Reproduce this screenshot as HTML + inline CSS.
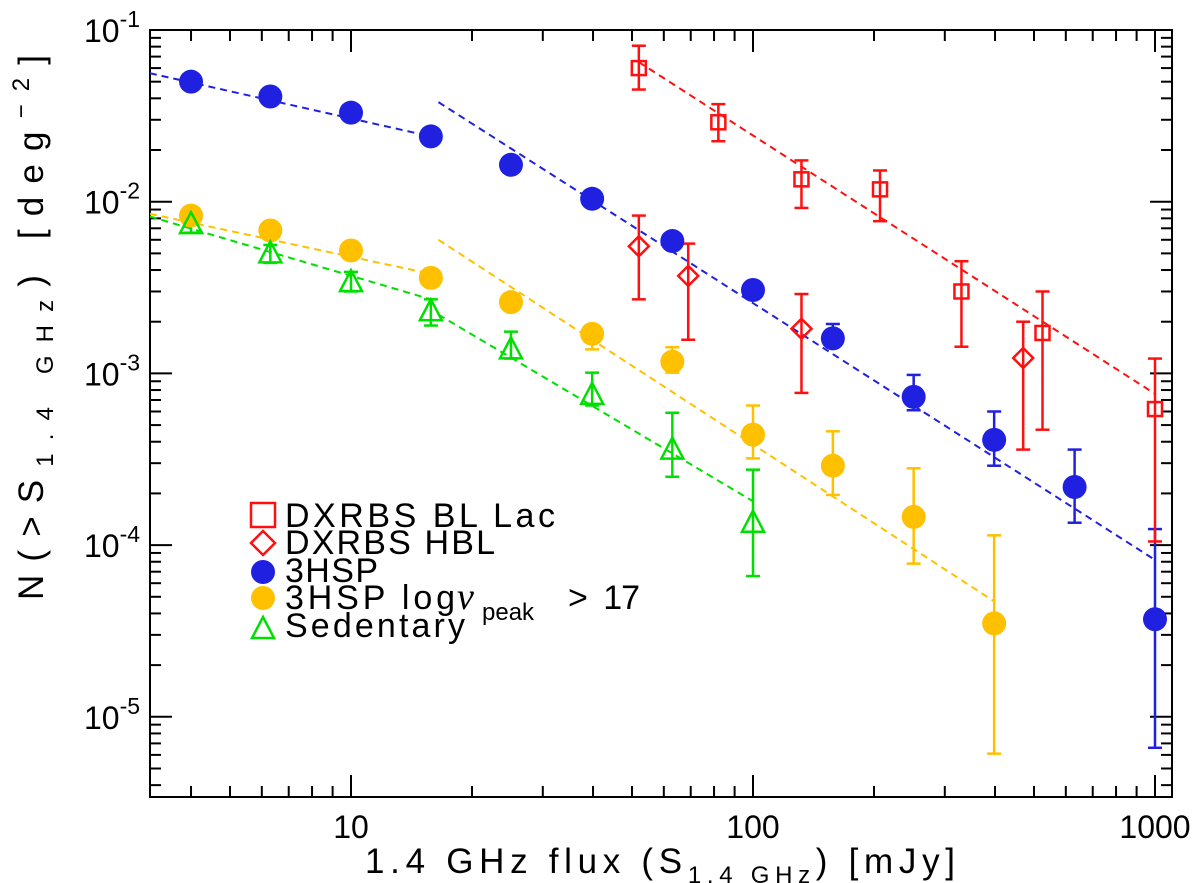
<!DOCTYPE html>
<html><head><meta charset="utf-8"><style>body{margin:0;background:#fff}svg{display:block}text{white-space:pre}</style></head>
<body>
<svg id="c" width="1200" height="883" xmlns="http://www.w3.org/2000/svg" font-family="'Liberation Sans', 'DejaVu Sans', sans-serif"></svg>
<script>
const blueX=[4,6.3,10,15.8,25,39.8,63,100,158,251,398,631,1000];
const blueY=[0.05,0.041,0.033,0.024,0.0164,0.0104,0.0059,0.00306,0.0016,0.00073,0.00041,0.000218,0.000037];
const blueLo=[null,null,null,null,null,null,null,null,0.00146,0.00061,0.00029,0.000135,0.0000066];
const blueHi=[null,null,null,null,null,null,null,null,0.00194,0.00098,0.00060,0.00036,0.000124];
const yelX=[4,6.3,10,15.8,25,39.8,63,100,158,251,398];
const yelY=[0.0083,0.0068,0.0052,0.0036,0.0026,0.0017,0.00117,0.00044,0.00029,0.000146,0.000035];
const yelLo=[null,null,null,null,null,0.00138,0.00101,0.00032,0.000196,0.000078,0.0000061];
const yelHi=[null,null,null,null,null,0.00189,0.00142,0.00065,0.00046,0.00028,0.000114];
const sedX=[4,6.3,10,15.8,25,39.8,63,100];
const sedY=[0.0074,0.0050,0.0034,0.0023,0.00138,0.00075,0.00036,0.000135];
const sedLo=[0.0066,0.0044,0.0030,0.0019,0.00122,0.00065,0.00025,0.000066];
const sedHi=[0.0084,0.0056,0.0039,0.0027,0.00175,0.00101,0.00059,0.000275];
const sqX=[52,82,132,207,330,525,1000];
const sqY=[0.060,0.029,0.0135,0.0118,0.0030,0.00172,0.00062];
const sqLo=[0.045,0.0225,0.0092,0.0077,0.00143,0.00047,0.000105];
const sqHi=[0.081,0.037,0.0174,0.0152,0.0045,0.0030,0.00122];
const diX=[52,69,132,470];
const diY=[0.0055,0.0037,0.00182,0.00123];
const diLo=[0.0027,0.00157,0.00077,0.00036];
const diHi=[0.0083,0.0057,0.0029,0.0020];
const fits=[
 {c:'#2020e0',x:[3.16,15.8],y:[0.056,0.024]},
 {c:'#2020e0',x:[16.5,1000],y:[0.038,0.000082]},
 {c:'#ffc000',x:[3.16,15.8],y:[0.0085,0.0038]},
 {c:'#ffc000',x:[16.5,398],y:[0.0060,0.000047]},
 {c:'#00e000',x:[3.16,15.8],y:[0.0082,0.0027]},
 {c:'#00e000',x:[16.5,100],y:[0.0022,0.00018]},
 {c:'#ff1010',x:[52,1000],y:[0.065,0.00076]}
];
const xTicks=[10,100,1000];
const yTickExp=[-1,-2,-3,-4,-5];
const L=150,R=1172,T=30,B=797;
const X=v=>351+(Math.log10(v)-1)*402;
const Y=v=>30+(-1-Math.log10(v))*171.7;
const svg=document.getElementById('c');
const NS='http://www.w3.org/2000/svg';
function mk(t,a,p){const e=document.createElementNS(NS,t);for(const k in a)e.setAttribute(k,a[k]);(p||svg).appendChild(e);return e;}
const ax=mk('g',{stroke:'#000','stroke-width':2,fill:'none'});


mk('rect',{x:L,y:T,width:R-L,height:B-T},ax);
for(let d=0;d<4;d++)for(let m=1;m<10;m++){const v=Math.pow(10,d)*m;const x=X(v);if(x<=L||x>=R)continue;const len=m==1?22:11;
 mk('line',{x1:x,y1:B,x2:x,y2:B-len},ax);mk('line',{x1:x,y1:T,x2:x,y2:T+len},ax);}
for(let d=-6;d<0;d++)for(let m=1;m<10;m++){const v=Math.pow(10,d)*m;const y=Y(v);if(y<=T+0.5&&m!=1||y>=B||y<T-0.5)continue;const len=m==1?22:11;
 mk('line',{x1:L,y1:y,x2:L+len,y2:y},ax);mk('line',{x1:R,y1:y,x2:R-len,y2:y},ax);}
xTicks.forEach(v=>{const t=mk('text',{x:X(v),y:838,'font-size':32,'text-anchor':'middle'});t.textContent=v;
 
 });
yTickExp.forEach(e=>{const t=mk('text',{x:84,y:Y(Math.pow(10,e))+12,'font-size':32});t.innerHTML='10<tspan dy="-15" font-size="23">'+e+'</tspan>';
 
 });
const xt=mk('text',{x:365,y:873,'font-size':35,textLength:590,lengthAdjust:'spacing'});
xt.innerHTML='1.4 GHz flux (S<tspan dy="10" font-size="24">1.4 GHz</tspan><tspan dy="-10">) [mJy]</tspan>';


const yt=mk('text',{x:0,y:0,'font-size':35,textLength:545,lengthAdjust:'spacing',transform:'translate(43,600) rotate(-90)'});
yt.innerHTML='N(&gt;S<tspan dy="10" font-size="24">1.4 GHz</tspan><tspan dy="-10">) [deg</tspan><tspan dy="-14" font-size="24">−2</tspan><tspan dy="14">]</tspan>';


const clip=mk('clipPath',{id:'cp'});mk('rect',{x:L,y:T,width:R-L,height:B-T},clip);
const pg=mk('g',{'clip-path':'url(#cp)'});
fits.forEach(f=>{const l=mk('line',{x1:X(f.x[0]),y1:Y(f.y[0]),x2:X(f.x[1]),y2:Y(f.y[1]),stroke:f.c,'stroke-width':2,'stroke-dasharray':'7,5'},pg);
 
 });
function err(xs,lo,hi,c){xs.forEach((x,i)=>{if(lo[i]==null)return;const g=mk('g',{stroke:c,'stroke-width':2.5},pg);
 
 
 const px=X(x);mk('line',{x1:px,y1:Y(lo[i]),x2:px,y2:Y(hi[i])},g);mk('line',{x1:px-7,y1:Y(lo[i]),x2:px+7,y2:Y(lo[i])},g);mk('line',{x1:px-7,y1:Y(hi[i]),x2:px+7,y2:Y(hi[i])},g);});}
err(blueX,blueLo,blueHi,'#2020e0');err(yelX,yelLo,yelHi,'#ffc000');err(sedX,sedLo,sedHi,'#00e000');err(sqX,sqLo,sqHi,'#ff1010');err(diX,diLo,diHi,'#ff1010');
function circ(x,y,c,name){const e=mk('circle',{cx:x,cy:y,r:12,fill:c},pg);}
function tri(x,y,name){const e=mk('polygon',{points:`${x},${y-12} ${x-11},${y+9} ${x+11},${y+9}`,fill:'none',stroke:'#00e000','stroke-width':2.5},pg);}
function sq(x,y,s,name){const e=mk('rect',{x:x-s,y:y-s,width:2*s,height:2*s,fill:'none',stroke:'#ff1010','stroke-width':2.5},pg);}
function dia(x,y,s,name){const e=mk('polygon',{points:`${x},${y-s} ${x+s},${y} ${x},${y+s} ${x-s},${y}`,fill:'none',stroke:'#ff1010','stroke-width':2.5},pg);}
blueX.forEach((x,i)=>circ(X(x),Y(blueY[i]),'#2020e0','point-3hsp'));
yelX.forEach((x,i)=>circ(X(x),Y(yelY[i]),'#ffc000','point-3hsp-hi'));
sedX.forEach((x,i)=>tri(X(x),Y(sedY[i]),'point-sedentary'));
sqX.forEach((x,i)=>sq(X(x),Y(sqY[i]),7,'point-dxrbs-bllac'));
diX.forEach((x,i)=>dia(X(x),Y(diY[i]),10,'point-dxrbs-hbl'));
const lg=mk('g',{'font-size':34});


sq(263,515,12,'legend-symbol');dia(263,543,12,'legend-symbol');circ(263,572,'#2020e0','legend-symbol');circ(263,598,'#ffc000','legend-symbol');tri(263,629,'legend-symbol');
const labs=[['DXRBS BL Lac',527,270],['DXRBS HBL',554,210],['3HSP',582,93],['3HSP log',609,170],['Sedentary',637,180]];
labs.forEach(l=>{const t=mk('text',{x:285,y:l[1],textLength:l[2],lengthAdjust:'spacing'},lg);t.textContent=l[0];});
const nu=mk('text',{x:457,y:609,'font-family':'Liberation Serif','font-style':'italic','font-size':38},lg);nu.textContent='ν';
const gt=mk('text',{x:568,y:609,textLength:72,lengthAdjust:'spacing'},lg);gt.textContent='>  17';
const pk=mk('text',{x:482,y:620,'font-size':24},lg);pk.textContent='peak';
</script>
</body></html>
